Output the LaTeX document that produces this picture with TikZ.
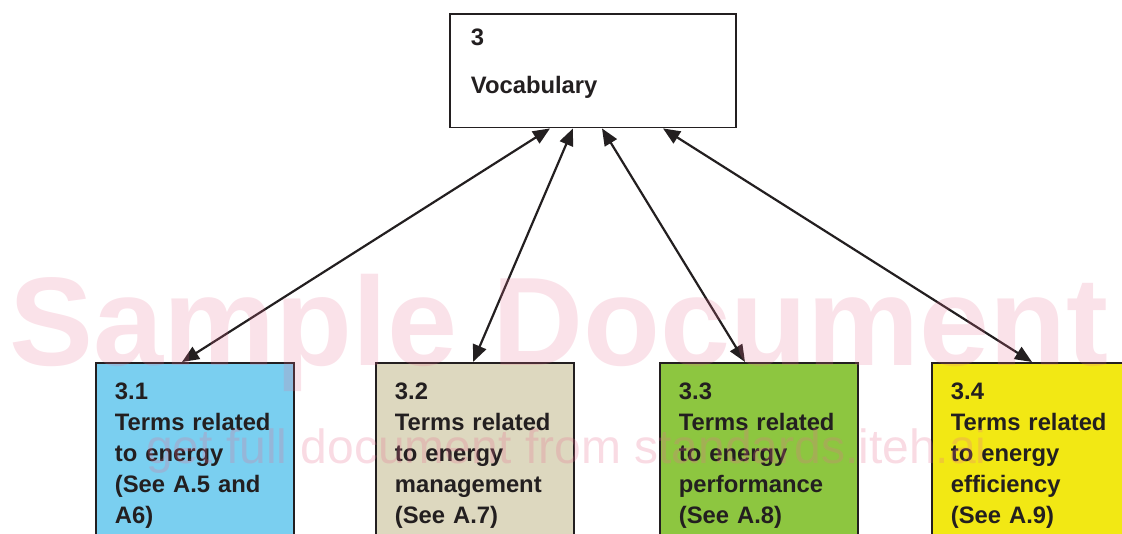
\documentclass[tikz,border=0pt]{standalone}
\usepackage{fontspec}
\setmainfont{Liberation Sans}
\usetikzlibrary{arrows.meta,calc}

\definecolor{ink}{RGB}{35,31,32}
\definecolor{energyblue}{RGB}{122,207,240}
\definecolor{mgmtbeige}{RGB}{221,216,191}
\definecolor{perfgreen}{RGB}{141,198,64}
\definecolor{effyellow}{RGB}{242,232,20}
\definecolor{markpink}{RGB}{232,110,145}

\begin{document}
\begin{tikzpicture}[
    x=1pt, y=-1pt,
    termfont/.style={font=\fontsize{23.8}{31}\selectfont\bfseries, text=ink},
    topbox/.style={rectangle, draw=ink, line width=1.8pt, anchor=north west, termfont,
        align=left, text width=244pt, inner xsep=21pt, inner ysep=15pt},
    termbox/.style={rectangle, draw=ink, line width=1.8pt, anchor=north west, termfont,
        align=left, text width=160pt, inner xsep=19pt, inner ysep=20pt},
    link/.style={{Triangle[length=17pt,width=14pt]}-{Triangle[length=17pt,width=14pt]},
        line width=2.2pt, draw=ink}
]
    \useasboundingbox (0,0) rectangle (1122,534);

    \node[topbox] (voc) at (449,13) {3\\[17pt]Vocabulary\rule[-19pt]{0pt}{19pt}};

    \node[termbox, fill=energyblue] (t1) at (95,362) {3.1\\Terms related\\to energy\\(See A.5 and\\A6)};
    \node[termbox, fill=mgmtbeige] (t2) at (375,362) {3.2\\Terms related\\to energy\\management\\(See A.7)};
    \node[termbox, fill=perfgreen] (t3) at (659,362) {3.3\\Terms related\\to energy\\performance\\(See A.8)};
    \node[termbox, fill=effyellow] (t4) at (931,362) {3.4\\Terms related\\to energy\\efficiency\\(See A.9)};

    \foreach \t/\a/\b in {t1/101/87, t2/124/98, t3/153/86, t4/214/101} {
        \draw[link] ($(voc.south west)+(\a,0)$) -- ($(\t.north west)+(\b,0)$);
    }

    % watermark
    \node[anchor=base west, inner sep=0pt, font=\fontsize{126}{126}\selectfont\bfseries,
        text=markpink, text opacity=0.2] (wm1) at (9,366) {Sample Document};
    \node[anchor=base west, inner sep=0pt, font=\fontsize{48}{48}\selectfont,
        text=markpink, text opacity=0.25] (wm2) at (146,463) {get full document from standards.iteh.ai};
\end{tikzpicture}
\end{document}
